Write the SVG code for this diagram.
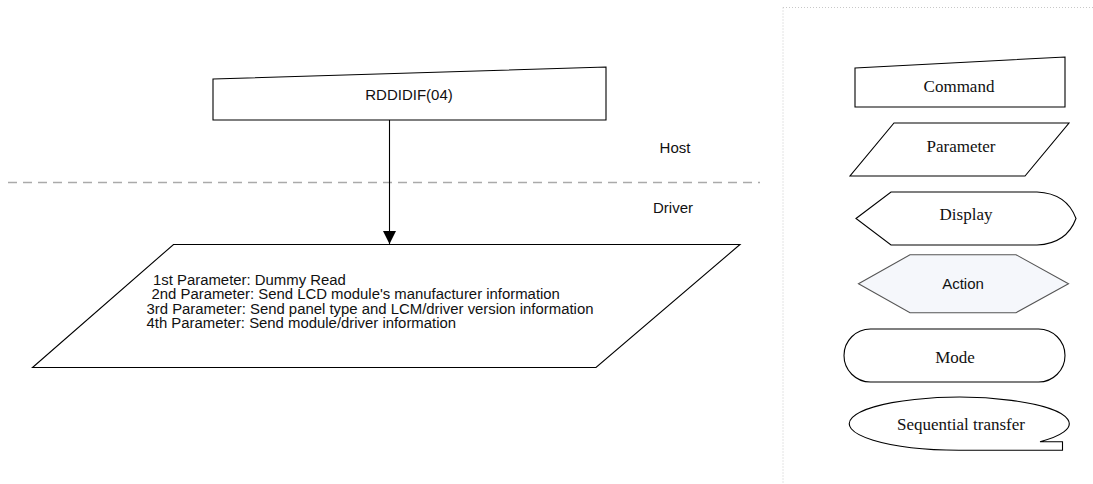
<svg xmlns="http://www.w3.org/2000/svg" width="1093" height="484" viewBox="0 0 1093 484">
  <style>
    .shape { fill: #ffffff; stroke: #000000; stroke-width: 1.1; }
    .action { fill: #f5f7fb; stroke: #555555; stroke-width: 1.1; }
    .sans { font-family: "Liberation Sans", Arial, sans-serif; font-size: 15px; fill: #111111; }
    .param { font-family: "Liberation Sans", Arial, sans-serif; font-size: 14.9px; fill: #111111; }
    .serif { font-family: "Liberation Serif", "Times New Roman", serif; font-size: 17px; fill: #111111; }
    .sep { stroke: #aaaaaa; stroke-width: 1.7; stroke-dasharray: 9 6; fill: none; }
    .frame { stroke: #c8c8c8; stroke-width: 1; stroke-dasharray: 1 2; fill: none; }
    .conn { stroke: #000000; stroke-width: 1.1; fill: none; }
  </style>
  <defs>
    <marker id="arrow" markerWidth="14" markerHeight="13" refX="13" refY="6.5" orient="auto" markerUnits="userSpaceOnUse">
      <path d="M0,0 L13,6.5 L0,13 Z" fill="#000000"/>
    </marker>
  </defs>

  <rect x="0" y="0" width="1093" height="484" fill="#ffffff"/>

  <!-- lane separator -->
  <line class="sep" x1="8" y1="182.5" x2="760" y2="182.5"/>
  <text class="sans" x="675" y="153" text-anchor="middle">Host</text>
  <text class="sans" x="673" y="213" text-anchor="middle">Driver</text>

  <!-- legend frame -->
  <g id="legend-frame">
    <line class="frame" x1="783" y1="7.5" x2="1093" y2="7.5"/>
    <line class="frame" x1="783" y1="7.5" x2="783" y2="484"/>
  </g>

  <!-- main nodes -->
  <g id="node-command">
    <polygon class="shape" points="213,79 606,67 606,120 213,120"/>
    <text class="sans" x="409" y="100" text-anchor="middle">RDDIDIF(04)</text>
  </g>

  <g id="node-parameter">
    <polygon class="shape" points="173.5,244.5 740,244.5 596,367.5 32.5,367.5"/>
    <text class="param" x="153" y="284.5">1st Parameter: Dummy Read</text>
    <text class="param" x="151.5" y="299">2nd Parameter: Send LCD module's manufacturer information</text>
    <text class="param" x="146.5" y="313.5">3rd Parameter: Send panel type and LCM/driver version information</text>
    <text class="param" x="146.5" y="328">4th Parameter: Send module/driver information</text>
  </g>

  <!-- connectors -->
  <g id="connectors">
    <line class="conn" x1="389.5" y1="120" x2="389.5" y2="244" marker-end="url(#arrow)"/>
  </g>

  <!-- legend -->
  <g id="legend-command">
    <polygon class="shape" points="855,68 1065,57 1065,107 855,107"/>
    <text class="serif" x="959" y="91.5" text-anchor="middle">Command</text>
  </g>
  <g id="legend-parameter">
    <polygon class="shape" points="894,123 1069,123 1025,176 850,176"/>
    <text class="serif" x="961" y="151.5" text-anchor="middle">Parameter</text>
  </g>
  <g id="legend-display">
    <path class="shape" d="M856,218.5 L891,192 L1037,192 C1060,193 1071,205 1076,218.5 C1071,232 1060,244 1037,245 L891,245 Z"/>
    <text class="serif" x="966" y="219.5" text-anchor="middle">Display</text>
  </g>
  <g id="legend-action">
    <polygon class="action" points="858.5,283.7 910,254.7 1016,254.7 1068.5,283.7 1016,312.7 910,312.7"/>
    <text class="sans" x="963" y="289.3" text-anchor="middle">Action</text>
  </g>
  <g id="legend-mode">
    <rect class="shape" x="844" y="329" width="221" height="53" rx="26.5" ry="26.5"/>
    <text class="serif" x="955" y="363" text-anchor="middle" font-size="18">Mode</text>
  </g>
  <g id="legend-sequential">
    <path class="shape" d="M1040,441.7 A110,26.5 0 1 0 960.7,450.2 L1062.5,450.2 L1062.5,441.7 Z"/>
    <text class="serif" x="961" y="430" text-anchor="middle">Sequential transfer</text>
  </g>
</svg>
